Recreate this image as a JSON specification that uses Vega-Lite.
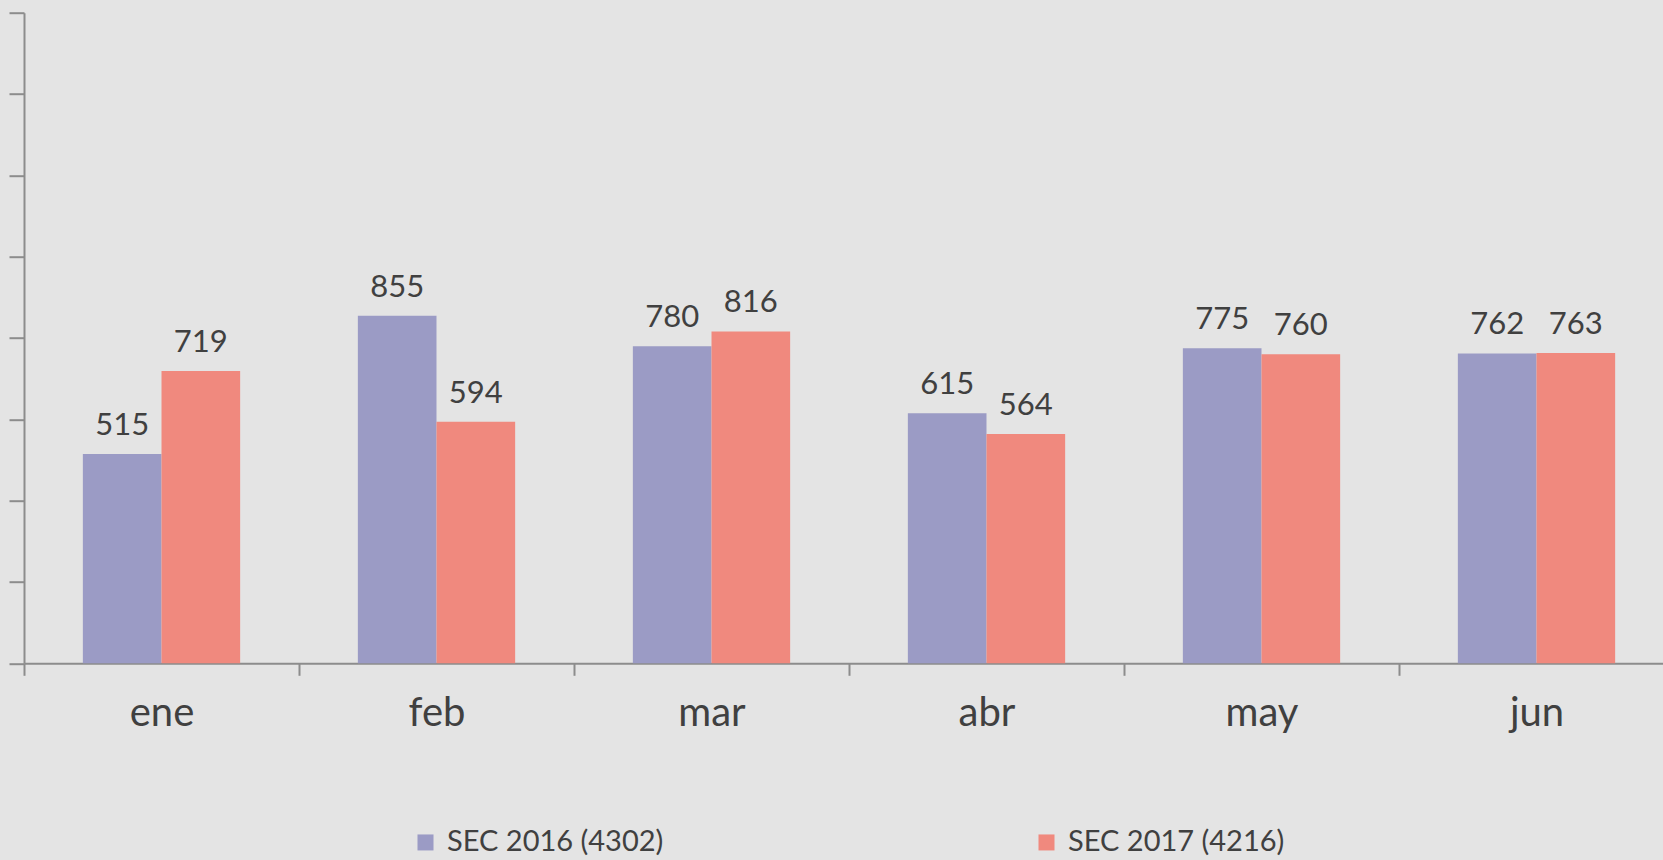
{
  "$schema": "https://vega.github.io/schema/vega-lite/v6.json",
  "width": 1639,
  "height": 650.6,
  "autosize": {"type": "none"},
  "padding": {"left": 24, "top": 12.7, "right": 0, "bottom": 196.7},
  "background": "#e4e4e4",
  "config": {"view": {"stroke": null}, "font": "Lato"},
  "data": {
    "values": [
      {"mes": "ene", "serie": "SEC 2016  (4302)", "valor": 515},
      {"mes": "ene", "serie": "SEC 2017 (4216)", "valor": 719},
      {"mes": "feb", "serie": "SEC 2016  (4302)", "valor": 855},
      {"mes": "feb", "serie": "SEC 2017 (4216)", "valor": 594},
      {"mes": "mar", "serie": "SEC 2016  (4302)", "valor": 780},
      {"mes": "mar", "serie": "SEC 2017 (4216)", "valor": 816},
      {"mes": "abr", "serie": "SEC 2016  (4302)", "valor": 615},
      {"mes": "abr", "serie": "SEC 2017 (4216)", "valor": 564},
      {"mes": "may", "serie": "SEC 2016  (4302)", "valor": 775},
      {"mes": "may", "serie": "SEC 2017 (4216)", "valor": 760},
      {"mes": "jun", "serie": "SEC 2016  (4302)", "valor": 762},
      {"mes": "jun", "serie": "SEC 2017 (4216)", "valor": 763}
    ]
  },
  "encoding": {
    "x": {
      "field": "mes",
      "type": "nominal",
      "sort": ["ene", "feb", "mar", "abr", "may", "jun"],
      "scale": {"range": [0, 1650], "paddingInner": 0.428, "paddingOuter": 0.214},
      "axis": {
        "title": null,
        "labelAngle": 0,
        "labelFontSize": 40,
        "labelColor": "#404040",
        "labelBaseline": "alphabetic",
        "labelPadding": 50,
        "tickOffset": -137.5,
        "labelOffset": 137.5,
        "tickSize": 12,
        "tickWidth": 2,
        "tickColor": "#8c8c8c",
        "domainColor": "#8c8c8c",
        "domainWidth": 2,
        "grid": false
      }
    },
    "xOffset": {"field": "serie", "type": "nominal", "scale": {"paddingInner": 0, "paddingOuter": 0}},
    "y": {
      "field": "valor",
      "type": "quantitative",
      "scale": {"domain": [0, 1600], "nice": false},
      "axis": {
        "title": null,
        "labels": false,
        "values": [0, 200, 400, 600, 800, 1000, 1200, 1400, 1600],
        "tickSize": 15,
        "tickWidth": 2,
        "tickColor": "#8c8c8c",
        "domainColor": "#8c8c8c",
        "domainWidth": 2,
        "grid": false
      }
    }
  },
  "layer": [
    {
      "mark": {"type": "bar"},
      "encoding": {
        "color": {
          "field": "serie",
          "type": "nominal",
          "scale": {"range": ["#9b9bc5", "#f0897e"]},
          "legend": {
            "title": null,
            "orient": "none",
            "direction": "horizontal",
            "legendX": 387,
            "legendY": 815,
            "symbolType": "square",
            "symbolSize": 256,
            "symbolStrokeWidth": 0,
            "labelFontSize": 29,
            "labelColor": "#404040",
            "labelOffset": 7,
            "labelLimit": 500,
            "columnPadding": 361,
            "padding": 0
          }
        }
      }
    },
    {
      "mark": {"type": "text", "baseline": "alphabetic", "dy": -19, "fontSize": 31, "color": "#404040"},
      "encoding": {"text": {"field": "valor", "type": "quantitative"}}
    }
  ]
}
